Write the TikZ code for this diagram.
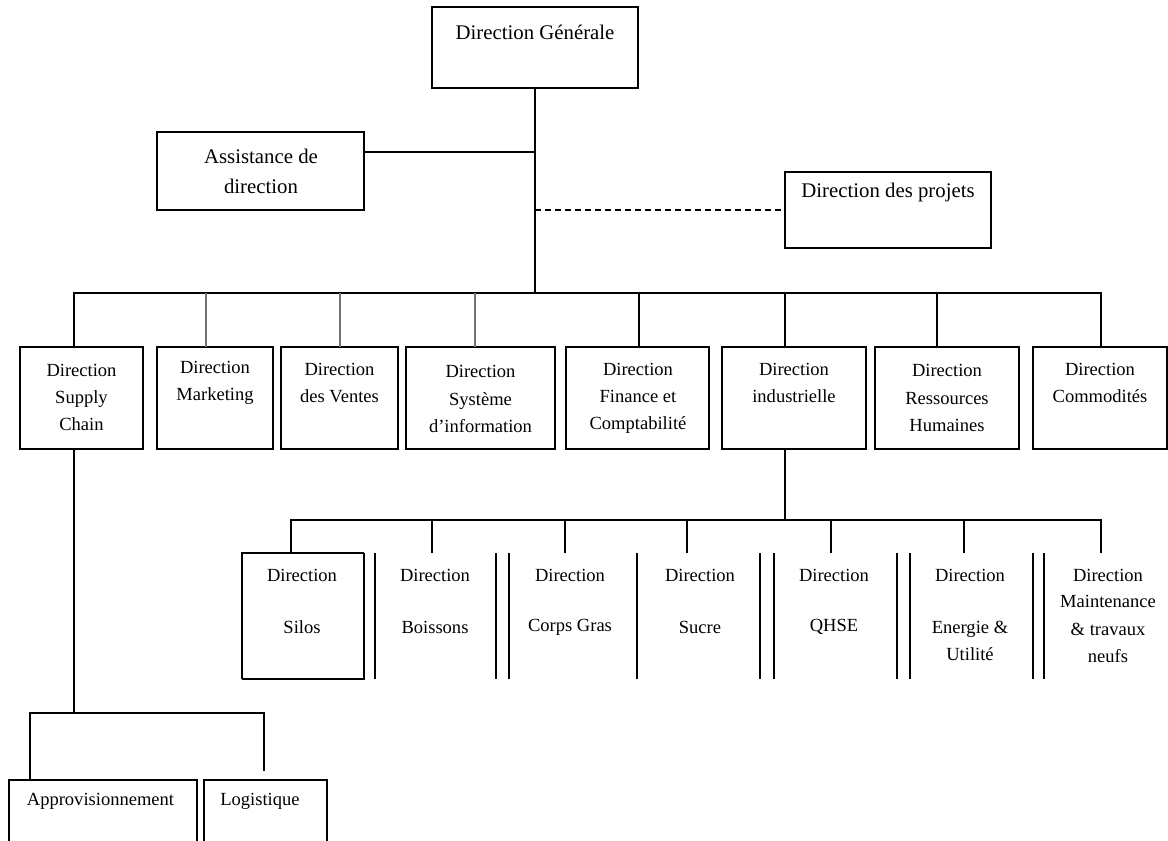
\documentclass[tikz,border=0pt]{standalone}
\usepackage{fontspec}
\setmainfont{Liberation Serif}
\begin{document}
\begin{tikzpicture}[x=0.75pt,y=-0.75pt,
  every node/.style={inner sep=0pt,outer sep=0pt},
  box/.style 2 args={draw,line width=0.9pt,minimum width=#1*0.75pt,minimum height=#2*0.75pt},
  cell/.style 2 args={minimum width=#1*0.75pt,minimum height=#2*0.75pt},
  lbl/.style={align=center,font=\fontsize{13.9}{20.3}\selectfont},
  biglbl/.style={align=center,font=\fontsize{15.6}{22.5}\selectfont},
  link/.style={line width=0.9pt},
  greylink/.style={line width=0.9pt,draw=black!55},
  heavylink/.style={line width=1.9pt},
  dashlink/.style={line width=1.4pt,dash pattern=on 4.5pt off 3pt},
  rim/.style={line width=0.9pt},
  heavyrim/.style={line width=1.6pt},
]
\useasboundingbox (0,0) rectangle (1168,841);
\clip (0,0) rectangle (1168,841);
\fill[white] (0,0) rectangle (1168,841);

% ---- top level ----
\node[box={206}{81}] (dg) at (535,47.5) {};
\node[biglbl] (dgt) at (535,32) {Direction Générale};
\node[box={207}{78}] (as) at (260.5,171) {};
\node[biglbl] (ast) at (261,171.5) {Assistance de\\direction};
\node[box={206}{76}] (pj) at (888,210) {};
\node[biglbl] (pjt) at (888,193) {Direction des projets};

\coordinate (hub) at (535,293);
\coordinate (asj) at (535,152);
\coordinate (pjj) at (535,210);
\draw[link] (dg.south) -- (hub);
\draw[link] (as.east |- asj) -- (asj);
\draw[dashlink] (pjj) -- (pj.west);

% ---- directions ----
\node[box={123}{102}] (sc) at (81.5,398) {};
\node[box={116}{102}] (mk) at (215,398) {};
\node[box={117}{102}] (ve) at (339.5,398) {};
\node[box={149}{102}] (si) at (480.5,398) {};
\node[box={143}{102}] (fi) at (637.5,398) {};
\node[box={144}{102}] (in) at (794,398) {};
\node[box={144}{102}] (rh) at (947,398) {};
\node[box={134}{102}] (co) at (1100,398) {};

\node[lbl] (sct) at (81.5,397.5) {Direction\\Supply\\Chain};
\node[lbl] (mkt) at (215,383) {Direction\\Marketing};
\node[lbl] (vet) at (339.5,383) {Direction\\des Ventes};
\node[lbl] (sit) at (480.5,399) {Direction\\Système\\d’information};
\node[lbl] (fit) at (638,398) {Direction\\Finance et\\Comptabilité};
\node[lbl] (int) at (794,383) {Direction\\industrielle};
\node[lbl] (rht) at (947,398) {Direction\\Ressources\\Humaines};
\node[lbl] (cot) at (1100,383) {Direction\\Commodités};

\coordinate (j1) at (74,293);
\coordinate (j2) at (206,293);
\coordinate (j3) at (340,293);
\coordinate (j4) at (475,293);
\coordinate (j5) at (639,293);
\coordinate (j6) at (785,293);
\coordinate (j7) at (937,293);
\coordinate (j8) at (1101,293);
\draw[link] (j1 |- sc.north) -- (j1) -- (j8) -- (j8 |- co.north);
\draw[greylink] (j2) -- (j2 |- mk.north);
\draw[greylink] (j3) -- (j3 |- ve.north);
\draw[greylink] (j4) -- (j4 |- si.north);
\draw[link] (j5) -- (j5 |- fi.north);
\draw[link] (j6) -- (j6 |- in.north);
\draw[link] (j7) -- (j7 |- rh.north);

% ---- industrial departments ----
\node[cell={122}{126}] (sil) at (303,616) {};
\node[cell={121}{126}] (boi) at (435.5,616) {};
\node[cell={128}{126}] (cg) at (573,616) {};
\node[cell={123}{126}] (su) at (698.5,616) {};
\node[cell={123}{126}] (qh) at (835.5,616) {};
\node[cell={123}{126}] (en) at (971.5,616) {};
\node[cell={128}{126}] (mt) at (1108,616) {};

\draw[rim] (sil.south west) -- (sil.north west) -- (sil.north east);
\draw[heavyrim] (sil.north east) -- (sil.south east) -- (sil.south west);
\draw[rim] (boi.north west) -- (boi.south west) (boi.north east) -- (boi.south east);
\draw[rim] (cg.north west) -- (cg.south west) (cg.north east) -- (cg.south east);
\draw[rim] (su.north east) -- (su.south east);
\draw[rim] (qh.north west) -- (qh.south west) (qh.north east) -- (qh.south east);
\draw[rim] (en.north west) -- (en.south west) (en.north east) -- (en.south east);
\draw[rim] (mt.north west) -- (mt.south west);

\node[lbl] (sila) at (302,575) {Direction};
\node[lbl] (silb) at (302,627) {Silos};
\node[lbl] (boia) at (435,575) {Direction};
\node[lbl] (boib) at (435,627) {Boissons};
\node[lbl] (cga) at (570,575) {Direction};
\node[lbl] (cgb) at (570,627) {Corps Gras};
\node[lbl] (sua) at (700,575) {Direction};
\node[lbl] (sub) at (700,627) {Sucre};
\node[lbl] (qha) at (834,575) {Direction};
\node[lbl] (qhb) at (834,627) {QHSE};
\node[lbl] (ena) at (970,575) {Direction};
\node[lbl] (enb) at (970,640.5) {Energie \&\\Utilité};
\node[lbl] (mta) at (1108,575) {Direction};
\node[lbl] (mtb) at (1108,629) {Maintenance\\\& travaux\\neufs};

\coordinate (k1) at (291,520);
\coordinate (k2) at (432,520);
\coordinate (k3) at (565,520);
\coordinate (k4) at (687,520);
\coordinate (k5) at (831,520);
\coordinate (k6) at (964,520);
\coordinate (k7) at (1101,520);
\coordinate (k0) at (785,520);
\draw[link] (in.south -| k0) -- (k0);
\draw[link] (k1 |- sil.north) -- (k1) -- (k7) -- (k7 |- mt.north);
\draw[link] (k2) -- (k2 |- boi.north);
\draw[link] (k3) -- (k3 |- cg.north);
\draw[heavylink] (k4) -- (k4 |- su.north);
\draw[heavylink] (k5) -- (k5 |- qh.north);
\draw[heavylink] (k6) -- (k6 |- en.north);

% ---- supply chain units ----
\node[box={188}{120}] (ap) at (103,840) {};
\node[box={123}{120}] (lg) at (265.5,840) {};
\node[lbl] (apt) at (100.5,801) {Approvisionnement};
\node[lbl] (lgt) at (260,801) {Logistique};

\coordinate (m0) at (74,713);
\coordinate (m1) at (30,713);
\coordinate (m2) at (264,713);
\coordinate (m3) at (264,771);
\draw[link] (sc.south -| m0) -- (m0);
\draw[link] (m1 |- ap.north) -- (m1) -- (m2) -- (m3);
\end{tikzpicture}
\end{document}
